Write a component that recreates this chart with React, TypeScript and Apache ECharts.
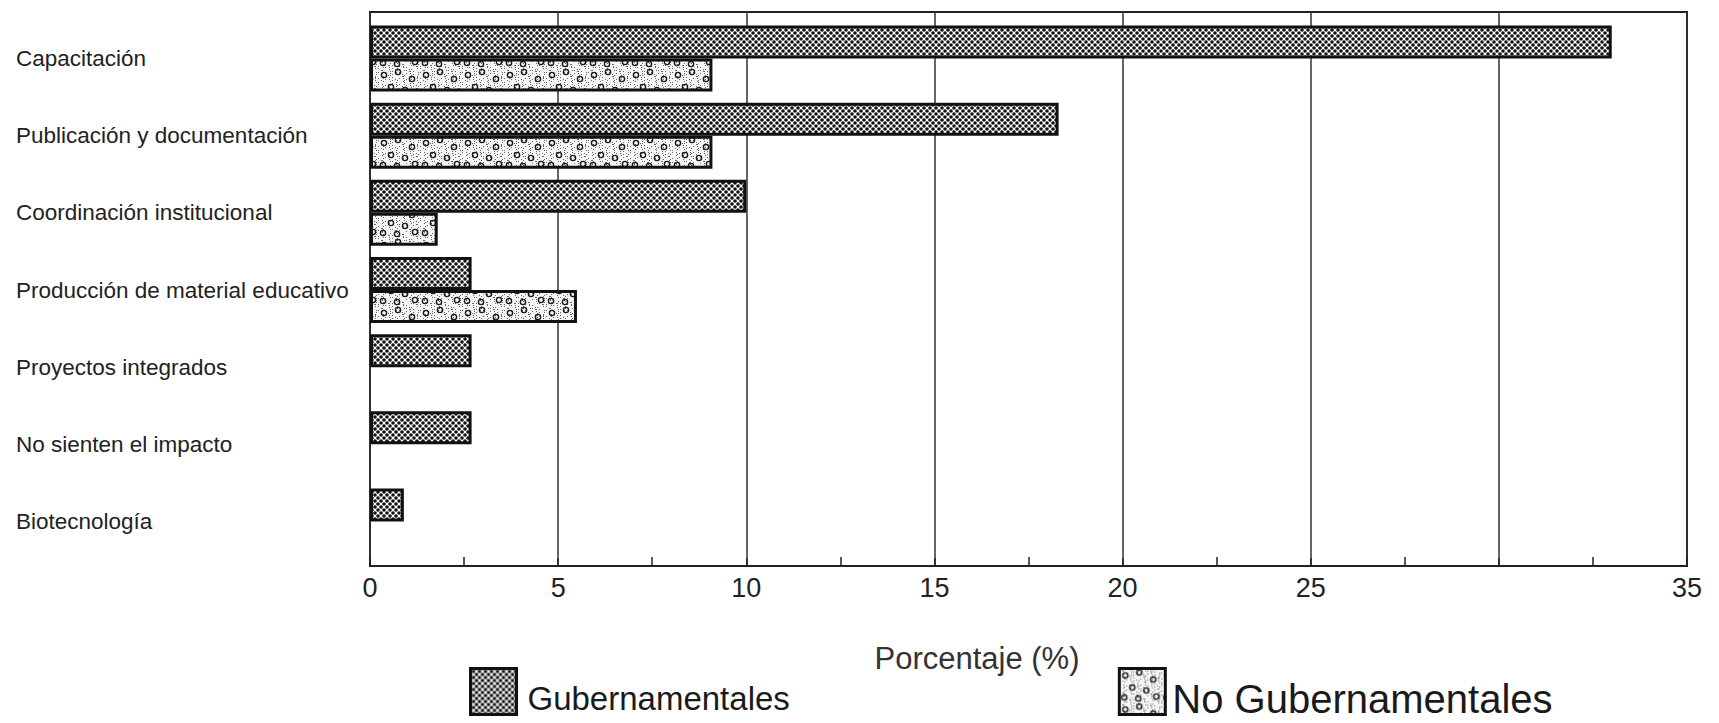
import React, { useEffect, useRef } from "react";
import * as echarts from "echarts";

const categories = [
  "Capacitación",
  "Publicación y documentación",
  "Coordinación institucional",
  "Producción de material educativo",
  "Proyectos integrados",
  "No sienten el impacto",
  "Biotecnología",
];
const gubernamentales = [33, 18.3, 10, 2.7, 2.7, 2.7, 0.9];
const noGubernamentales: (number | null)[] = [9.1, 9.1, 1.8, 5.5, null, null, null];
const seriesNames = ["Gubernamentales", "No Gubernamentales"];
const xTicksHidden = [30];

const FONT = "'Liberation Sans', Arial, Helvetica, sans-serif";

function makeDotTile() {
  const s = 6;
  const c = document.createElement("canvas");
  c.width = s;
  c.height = s;
  const g = c.getContext("2d")!;
  g.fillStyle = "#ffffff";
  g.fillRect(0, 0, s, s);
  g.fillStyle = "#111111";
  [[3, 3], [0, 0], [s, 0], [0, s], [s, s]].forEach(([x, y]) => {
    g.beginPath();
    g.arc(x, y, 1.8, 0, Math.PI * 2);
    g.fill();
  });
  return { image: c, repeat: "repeat", imageWidth: s, imageHeight: s };
}

function makeRingTile() {
  const w = 42;
  const h = 34;
  const c = document.createElement("canvas");
  c.width = w;
  c.height = h;
  const g = c.getContext("2d")!;
  g.fillStyle = "#f5f5f5";
  g.fillRect(0, 0, w, h);
  g.fillStyle = "#666";
  for (let i = 0; i < 160; i++) {
    const x = (i * 17 + ((i * i) % 7)) % w;
    const y = (i * 11 + ((i * 5) % 13)) % h;
    g.fillRect(x, y, 1, 1);
  }
  g.strokeStyle = "#1a1a1a";
  g.lineWidth = 1.4;
  const rings = [[6, 7], [20, 4], [34, 11], [13, 19], [27, 22], [5, 29], [19, 30], [37, 28]];
  rings.forEach(([x, y]) => {
    g.beginPath();
    g.arc(x, y, 2.6, 0, Math.PI * 2);
    g.stroke();
  });
  return { image: c, repeat: "repeat", imageWidth: w, imageHeight: h };
}

export default function App() {
  const ref = useRef<HTMLDivElement>(null);
  useEffect(() => {
    if (!ref.current) return;
    const chart = echarts.init(ref.current, null, { renderer: "svg" });
    const dots = makeDotTile();
    const rings = makeRingTile();
    chart.setOption({
      animation: false,
      backgroundColor: "#ffffff",
      textStyle: { fontFamily: FONT },
      grid: [
        { left: 370, right: 32, top: 12, bottom: 157, show: true, borderColor: "#222", borderWidth: 2, backgroundColor: "transparent" },
        { left: 370, right: 32, top: 20, bottom: 163 },
      ],
      xAxis: [
        {
          gridIndex: 0,
          type: "value",
          min: 0,
          max: 35,
          interval: 5,
          axisLine: { show: true, lineStyle: { color: "#222", width: 2 } },
          axisTick: { show: true, inside: true, length: 8, lineStyle: { color: "#222", width: 1.5 } },
          minorTick: { show: true, splitNumber: 2, length: 9, lineStyle: { color: "#222", width: 1.5 } },
          splitLine: { show: true, lineStyle: { color: "#333", width: 1.5 } },
          axisLabel: {
            fontSize: 27,
            color: "#222",
            margin: 8,
            fontFamily: FONT,
            formatter: (v: number) => (xTicksHidden.includes(v) ? "" : String(v)),
          },
          name: "Porcentaje (%)",
          nameLocation: "middle",
          nameGap: 77,
          nameTextStyle: { fontSize: 31, color: "#333", fontFamily: FONT, padding: [0, 103, 0, 0] },
        },
        { gridIndex: 1, type: "value", min: 0, max: 35, show: false },
      ],
      yAxis: [
        { gridIndex: 0, type: "value", show: false },
        {
          gridIndex: 1,
          type: "category",
          data: categories,
          inverse: true,
          axisLine: { show: false },
          axisTick: { show: false },
          splitLine: { show: false },
          axisLabel: { align: "left", margin: 354, fontSize: 22.5, color: "#222", fontFamily: FONT },
        },
      ],
      legend: {
        left: 469,
        top: 667,
        padding: 0,
        icon: "rect",
        itemWidth: 46,
        itemHeight: 46,
        itemGap: 328,
        itemStyle: { borderColor: "#111", borderWidth: 3 },
        formatter: (name: string) => (name === seriesNames[0] ? `{a|${name}}` : `{b|${name}}`),
        textStyle: {
          color: "#1a1a1a",
          fontFamily: FONT,
          rich: {
            a: { fontSize: 33, color: "#1a1a1a", fontFamily: FONT, padding: [14, 0, 0, 6] },
            b: { fontSize: 40, color: "#1a1a1a", fontFamily: FONT, padding: [14, 0, 0, 2] },
          },
        },
        data: seriesNames,
      },
      series: [
        {
          name: seriesNames[0],
          type: "bar",
          xAxisIndex: 1,
          yAxisIndex: 1,
          data: gubernamentales,
          barWidth: 33,
          barGap: "0%",
          itemStyle: { color: dots, borderColor: "#111", borderWidth: 3 },
        },
        {
          name: seriesNames[1],
          type: "bar",
          xAxisIndex: 1,
          yAxisIndex: 1,
          data: noGubernamentales,
          barWidth: 33,
          barGap: "0%",
          itemStyle: { color: rings, borderColor: "#111", borderWidth: 3 },
        },
      ],
    });
    return () => chart.dispose();
  }, []);
  return (
    <div
      ref={ref}
      style={{ position: "fixed", left: 0, top: 0, width: 1719, height: 723 }}
    />
  );
}
